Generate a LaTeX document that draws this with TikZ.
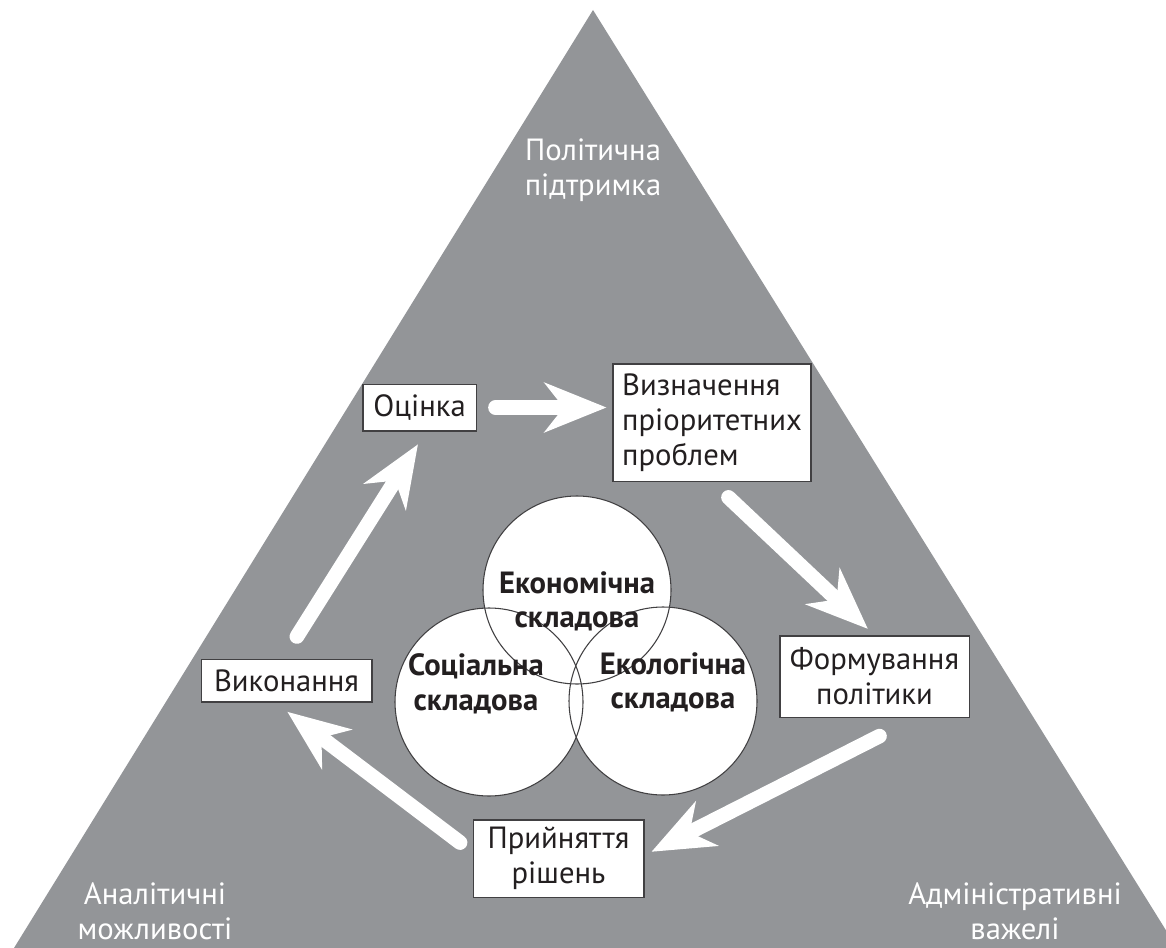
\documentclass[tikz,border=0pt]{standalone}
\usepackage{fontspec}
\setmainfont{PT Sans}
\usetikzlibrary{arrows.meta}
\definecolor{trigrey}{RGB}{147,149,152}
\definecolor{boxline}{RGB}{65,64,66}
\definecolor{inkblack}{RGB}{35,31,32}
\tikzset{
  stagebox/.style={draw=boxline, line width=1pt, fill=white, text=inkblack, align=center, inner sep=0pt, font=\fontsize{23}{26.25}\selectfont},
  cornerlabel/.style={text=white, align=center, inner sep=0pt, font=\fontsize{23}{26.25}\selectfont},
  pillar/.style={circle, fill=white, minimum size=141pt, inner sep=0pt},
  pillartext/.style={text=inkblack, align=center, inner sep=0pt, font=\bfseries\fontsize{23}{26}\selectfont},
  cyclearrow/.style={draw=white, line width=11pt, line cap=round, -{Stealth[length=47pt,width=38pt,inset=15pt,line width=0pt]}}
}

\begin{document}
\begin{tikzpicture}[x=0.75pt,y=0.75pt,yscale=-1,xscale=1]
\useasboundingbox (0,0) rectangle (1166,948);

%Shape: Triangle
\fill[trigrey] (593,10) -- (1177,948) -- (14,948) -- cycle;

% Corner labels
\node[cornerlabel] (polit) at (593,170) {Політична\\підтримка};
\node[cornerlabel] (analit) at (155,911) {Аналітичні\\можливості};
\node[cornerlabel] (admin) at (1015,911) {Адміністративні\\важелі};

%Shape: Circles
\node[pillar] (econ) at (577,590) {};
\node[pillar] (soc) at (489,702) {};
\node[pillar] (ekol) at (663,701) {};
\foreach \c in {econ,soc,ekol}
  \draw[boxline, line width=0.8pt] (\c.center) circle[radius=94];

% Circle texts
\node[pillartext] (econtxt) at ([yshift=8.6pt]econ.center) {Економічна\\складова};
\node[pillartext] (soctxt) at ([xshift=-9.75pt,yshift=-13.5pt]soc.center) {Соціальна\\складова};
\node[pillartext] (ekoltxt) at ([xshift=7.5pt,yshift=-14pt]ekol.center) {Екологічна\\складова};

% Stage boxes
\node[stagebox, minimum width=85pt, minimum height=35pt] (ocinka) at (419.5,407.5) {Оцінка};
\node[stagebox, minimum width=148.5pt, minimum height=88pt, align=left] (vyzn) at (712,422.5) {Визначення\\пріоритетних\\проблем};
\node[stagebox, minimum width=142pt, minimum height=61pt] (formuv) at (874.5,676.5) {Формування\\політики};
\node[stagebox, minimum width=128pt, minimum height=58pt] (pryin) at (558.5,858.5) {Прийняття\\рішень};
\node[stagebox, minimum width=128pt, minimum height=32pt] (vykon) at (286.5,680.5) {Виконання};

% Cycle arrows
\draw[cyclearrow, shorten <=14pt, shorten >=4.5pt] (ocinka.east) -- (ocinka.east -| vyzn.west);
\draw[cyclearrow, shorten <=17pt, shorten >=7pt] (vyzn.south) -- (formuv.north);
\draw[cyclearrow, shorten <=30.3pt, shorten >=6pt] ([xshift=30.75pt]formuv.south) -- ([yshift=-2.4pt]pryin.east);
\draw[cyclearrow, shorten <=11.7pt, shorten >=11.7pt] ([yshift=-4.9pt]pryin.west) -- ([xshift=-8.6pt]vykon.south);
\draw[cyclearrow, shorten <=19.5pt, shorten >=11.5pt] ([xshift=-2.6pt]vykon.north) -- ([xshift=4.9pt]ocinka.south);

\end{tikzpicture}
\end{document}
